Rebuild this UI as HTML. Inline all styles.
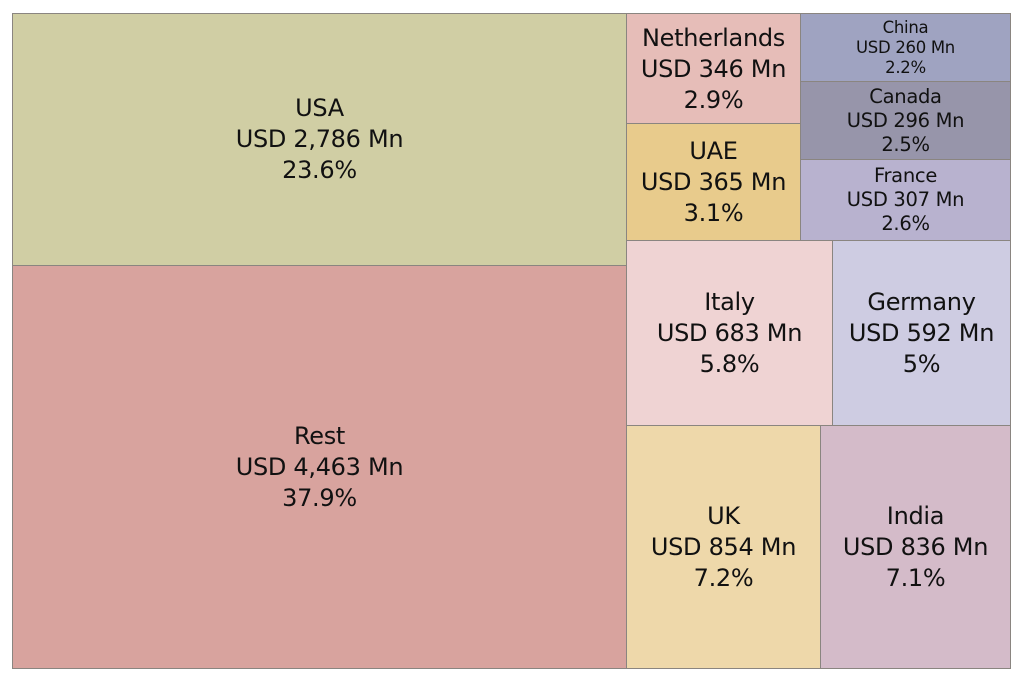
<!DOCTYPE html>
<html><head><style>
body{margin:0;width:1024px;height:683px;background:#fff;overflow:hidden;font-family:"DejaVu Sans","Liberation Sans",sans-serif;}
.b{position:absolute;box-sizing:border-box;border:1px solid #8a8580;display:flex;align-items:center;justify-content:center;text-align:center;color:#111;font-size:24px;line-height:31px;letter-spacing:-0.3px}
.s{font-size:19.5px;line-height:24px}
.xs{font-size:16.5px;line-height:20px}
</style></head><body>
<div class="b" style="left:12px;top:13px;width:615px;height:253px;background:#d0cea4">USA<br>USD 2,786 Mn<br>23.6%</div>
<div class="b" style="left:12px;top:265px;width:615px;height:404px;background:#d8a39e">Rest<br>USD 4,463 Mn<br>37.9%</div>
<div class="b" style="left:626px;top:13px;width:175px;height:111px;background:#e6bdb8;align-items:flex-start;padding-top:9px">Netherlands<br>USD 346 Mn<br>2.9%</div>
<div class="b" style="left:626px;top:123px;width:175px;height:118px;background:#e8cb8c">UAE<br>USD 365 Mn<br>3.1%</div>
<div class="b xs" style="left:800px;top:13px;width:211px;height:69px;background:#9fa3c1">China<br>USD 260 Mn<br>2.2%</div>
<div class="b s" style="left:800px;top:81px;width:211px;height:79px;background:#9795aa">Canada<br>USD 296 Mn<br>2.5%</div>
<div class="b s" style="left:800px;top:159px;width:211px;height:82px;background:#b8b2cf">France<br>USD 307 Mn<br>2.6%</div>
<div class="b" style="left:626px;top:240px;width:207px;height:186px;background:#efd3d3">Italy<br>USD 683 Mn<br>5.8%</div>
<div class="b" style="left:832px;top:240px;width:179px;height:186px;background:#cecce2">Germany<br>USD 592 Mn<br>5%</div>
<div class="b" style="left:626px;top:425px;width:195px;height:244px;background:#eed8aa">UK<br>USD 854 Mn<br>7.2%</div>
<div class="b" style="left:820px;top:425px;width:191px;height:244px;background:#d4bbc9">India<br>USD 836 Mn<br>7.1%</div>
</body></html>
